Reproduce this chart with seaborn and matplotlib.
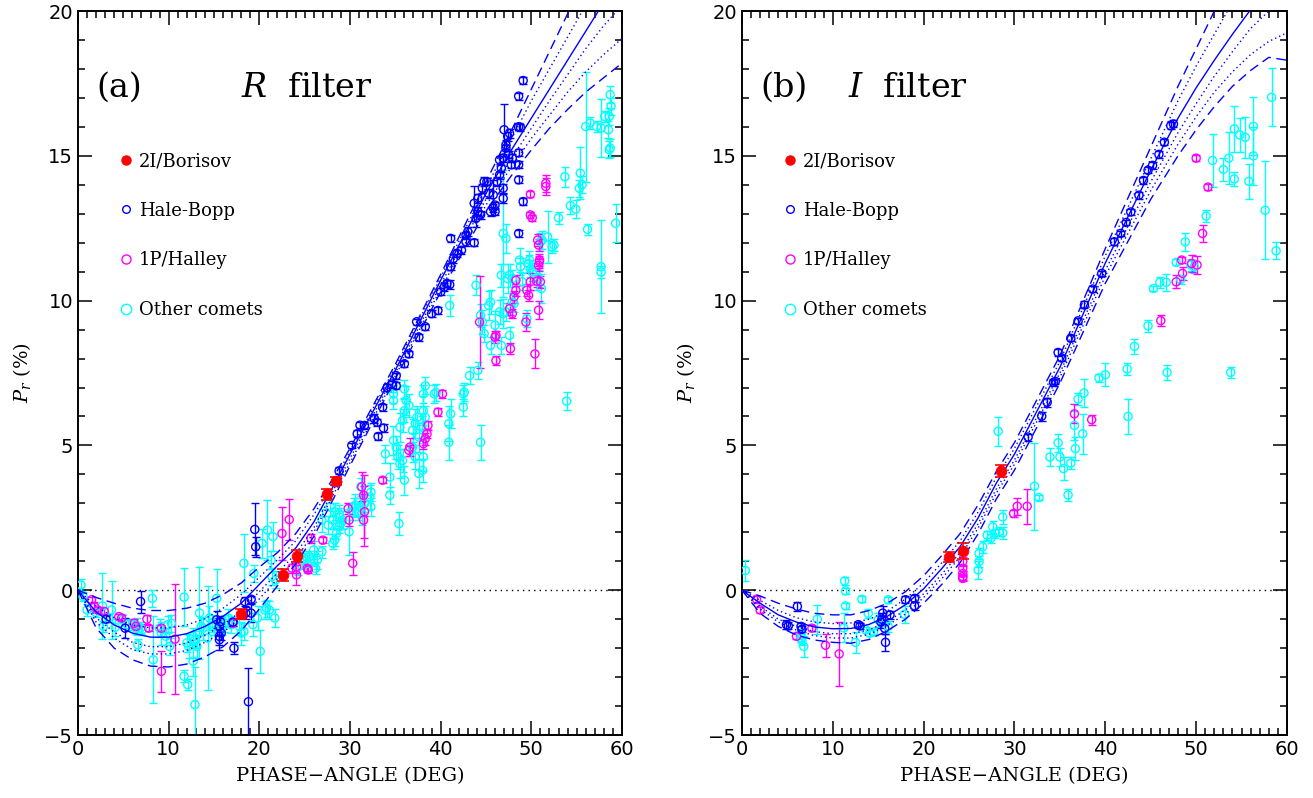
import numpy as np
import pandas as pd
import matplotlib
matplotlib.use("Agg")
import matplotlib.pyplot as plt
import seaborn as sns
from matplotlib.lines import Line2D
from matplotlib.ticker import MultipleLocator

sns.set_theme(style="ticks")
plt.rcParams["font.family"] = ["DejaVu Serif"]
plt.rcParams["mathtext.fontset"] = "dejavuserif"
plt.rcParams["text.color"] = "black"
plt.rcParams["axes.labelcolor"] = "black"
plt.rcParams["xtick.color"] = "black"
plt.rcParams["ytick.color"] = "black"

BLUE, MAGENTA, CYAN, RED = "#0000ff", "#ff00ff", "#00ffff", "#ff0000"

# ---------------- model curves ----------------
CURVE_X = [0, 2, 4, 6, 8, 10, 12, 14, 16, 18, 20, 22, 24, 26, 28, 30, 35, 40, 45, 48, 50, 52, 54, 56, 58, 60]

R_solid = [0, -0.75, -1.2, -1.48, -1.62, -1.62, -1.5, -1.25, -0.9, -0.45, 0.2, 0.85, 1.45, 2.35, 3.5, 4.7, 7.6, 10.7, 13.7, 15.3, 16.3, 17.3, 18.3, 19.3, 20.3, 21.3]
R_dash_hi = [0, -0.25, -0.45, -0.62, -0.7, -0.7, -0.62, -0.45, -0.15, 0.25, 0.8, 1.3, 1.95, 2.8, 3.8, 4.9, 7.8, 10.9, 14.1, 16.0, 17.3, 18.6, 19.9, 21.2, 22.5, 23.8]
R_dot_hi = [0, -0.55, -0.95, -1.2, -1.3, -1.3, -1.2, -0.98, -0.62, -0.15, 0.45, 1.05, 1.7, 2.6, 3.65, 4.8, 7.7, 10.8, 13.9, 15.7, 16.9, 18.0, 19.1, 20.2, 21.3, 22.4]
R_dot_lo1 = [0, -0.95, -1.45, -1.8, -1.95, -1.95, -1.82, -1.55, -1.2, -0.72, -0.05, 0.6, 1.25, 2.15, 3.35, 4.55, 7.5, 10.55, 13.5, 15.0, 15.95, 16.9, 17.8, 18.7, 19.5, 20.2]
R_dot_lo2 = [0, -1.1, -1.65, -2.05, -2.2, -2.2, -2.08, -1.8, -1.45, -0.95, -0.3, 0.4, 1.05, 2.0, 3.2, 4.4, 7.4, 10.4, 13.3, 14.7, 15.6, 16.4, 17.2, 17.9, 18.5, 19.05]
R_dash_lo = [0, -1.3, -2.0, -2.4, -2.62, -2.65, -2.55, -2.3, -1.95, -1.4, -0.65, 0.15, 0.9, 1.85, 3.05, 4.3, 7.3, 10.3, 13.1, 14.4, 15.2, 15.95, 16.6, 17.2, 17.7, 18.2]

I_solid = [0, -0.45, -0.85, -1.1, -1.27, -1.33, -1.32, -1.18, -0.9, -0.5, 0.05, 0.75, 1.5, 2.5, 3.7, 4.7, 7.7, 11.3, 14.5, 16.3, 17.35, 18.3, 19.2, 20.05, 20.9, 21.7]
I_dash_hi = [0, -0.2, -0.45, -0.65, -0.8, -0.85, -0.85, -0.7, -0.45, -0.05, 0.5, 1.2, 1.95, 2.95, 4.1, 5.1, 8.1, 11.8, 15.3, 17.4, 18.7, 20.0, 21.3, 22.6, 23.9, 25.2]
I_dot_hi = [0, -0.35, -0.7, -0.95, -1.1, -1.15, -1.13, -1.0, -0.72, -0.3, 0.25, 0.95, 1.7, 2.7, 3.9, 4.9, 7.9, 11.55, 14.9, 16.9, 18.1, 19.2, 20.3, 21.4, 22.5, 23.6]
I_dot_lo1 = [0, -0.55, -1.0, -1.25, -1.43, -1.5, -1.5, -1.37, -1.08, -0.68, -0.12, 0.55, 1.3, 2.3, 3.5, 4.5, 7.5, 11.05, 14.1, 15.8, 16.8, 17.75, 18.6, 19.4, 20.0, 20.5]
I_dot_lo2 = [0, -0.65, -1.1, -1.38, -1.57, -1.65, -1.65, -1.52, -1.22, -0.82, -0.25, 0.4, 1.15, 2.15, 3.35, 4.35, 7.35, 10.85, 13.8, 15.4, 16.35, 17.2, 17.9, 18.5, 18.95, 19.25]
I_dash_lo = [0, -0.8, -1.25, -1.55, -1.72, -1.8, -1.83, -1.7, -1.4, -1.0, -0.45, 0.2, 0.95, 1.95, 3.15, 4.15, 7.15, 10.6, 13.5, 15.0, 15.9, 16.7, 17.4, 17.95, 18.4, 18.3]

# ---------------- observations: (phase, polarization, error) ----------------
R_borisov = [(18.0, -0.83, 0.18), (22.6, 0.53, 0.2), (24.2, 1.19, 0.2), (27.5, 3.31, 0.2), (28.5, 3.77, 0.15)]

R_halebopp = [
    (3.1, -1.0, 0.1), (5.2, -1.31, 0.35), (6.9, -0.39, 0.38), (15.3, -1.02, 0.3), (15.6, -1.25, 0.3),
    (15.7, -1.08, 0.2), (15.6, -1.59, 0.3), (15.8, -1.48, 0.25), (15.6, -1.71, 0.35), (17.1, -1.1, 0.15),
    (17.2, -2.0, 0.2), (18.4, -0.39, 0.15), (18.5, -0.79, 0.2), (19.1, -0.31, 0.12), (19.1, -0.79, 0.3),
    (18.8, -3.85, 1.15), (19.5, 2.1, 0.9), (19.6, 1.5, 0.35),
    (28.8, 4.12, 0.12), (30.2, 5.0, 0.1), (30.8, 5.4, 0.12), (31.1, 5.7, 0.1), (31.6, 5.69, 0.12),
    (32.7, 5.92, 0.15), (33.0, 5.8, 0.12), (33.1, 5.31, 0.12), (33.7, 5.6, 0.15), (33.6, 6.32, 0.12),
    (34.1, 7.0, 0.12), (34.6, 7.12, 0.12), (35.1, 7.06, 0.12), (35.1, 7.41, 0.1), (36.0, 7.82, 0.1),
    (36.5, 8.16, 0.1), (37.35, 9.27, 0.1), (37.6, 8.74, 0.12), (38.3, 9.1, 0.1), (39.0, 9.55, 0.12),
    (39.7, 9.66, 0.12), (40.0, 10.3, 0.12), (40.4, 10.47, 0.15), (40.7, 10.59, 0.12), (41.0, 10.55, 0.15),
    (41.1, 11.17, 0.12), (41.4, 11.45, 0.15), (41.8, 11.63, 0.12), (42.3, 11.74, 0.12), (41.1, 12.15, 0.12),
    (42.8, 12.03, 0.15), (43.0, 12.38, 0.15), (42.8, 12.26, 0.12), (43.7, 12.0, 0.12), (43.9, 12.84, 0.3),
    (44.1, 13.07, 0.15), (44.4, 12.96, 0.15), (43.7, 13.36, 0.6), (44.1, 13.53, 0.15), (44.6, 13.88, 0.15),
    (44.8, 14.11, 0.15), (45.1, 14.11, 0.12), (45.3, 13.7, 0.15), (45.5, 13.07, 0.15), (45.8, 13.2, 0.15),
    (46.0, 13.3, 0.12), (45.8, 13.65, 0.5), (46.2, 14.11, 0.15), (46.5, 14.34, 0.15), (46.7, 14.57, 0.12),
    (46.0, 13.07, 0.12), (46.9, 13.88, 0.15), (46.9, 13.53, 0.15), (46.5, 14.86, 0.15), (46.9, 14.92, 0.15),
    (47.2, 15.38, 0.15), (47.4, 15.67, 0.15), (47.6, 15.78, 0.15), (47.2, 15.27, 0.12), (47.5, 15.03, 0.12),
    (47.9, 14.92, 0.15), (47.8, 14.69, 0.12), (47.0, 15.9, 0.9), (48.6, 16.0, 0.12), (48.8, 15.98, 0.12),
    (48.6, 15.1, 0.12), (48.6, 14.69, 0.12), (48.6, 14.17, 0.12), (49.1, 13.42, 0.12), (48.6, 12.32, 0.12),
    (48.6, 17.06, 0.12), (49.1, 17.6, 0.12),
]

R_halley = [
    (1.5, -0.33, 0.1), (1.8, -0.56, 0.15), (2.2, -0.68, 0.1), (2.9, -0.73, 0.1), (4.5, -0.91, 0.1),
    (4.8, -0.96, 0.1), (6.2, -1.14, 0.15), (6.4, -1.25, 0.1), (7.6, -1.0, 0.15), (7.8, -1.31, 0.1),
    (9.2, -1.31, 0.1), (9.2, -2.8, 0.7), (10.7, -1.69, 1.9), (17.1, -1.14, 0.1), (22.5, 1.96, 0.9),
    (23.3, 2.44, 0.7), (23.6, 0.76, 0.15), (24.1, 0.81, 0.2), (24.1, 0.53, 0.35), (25.3, 0.76, 0.1),
    (25.4, 0.7, 0.1), (25.7, 1.79, 0.15), (27.0, 1.73, 0.1), (29.8, 2.82, 0.2), (29.9, 2.42, 0.2),
    (30.3, 0.93, 0.4), (31.3, 3.57, 0.5), (31.5, 3.28, 0.7), (31.6, 2.71, 0.9), (31.5, 2.42, 0.9),
    (33.6, 3.8, 0.1), (36.6, 4.94, 0.3), (36.5, 4.83, 0.2), (38.1, 5.06, 0.2), (38.3, 5.23, 0.2),
    (38.5, 5.4, 0.15), (38.6, 5.69, 0.15), (39.7, 6.15, 0.15), (40.2, 6.78, 0.15), (44.3, 9.26, 1.6),
    (46.0, 8.74, 0.2), (46.1, 8.8, 0.15), (46.1, 7.93, 0.15), (47.6, 9.72, 0.2), (47.9, 9.55, 0.15),
    (47.7, 8.34, 0.2), (48.1, 10.13, 0.2), (48.3, 10.7, 0.2), (48.3, 10.36, 0.2), (49.5, 10.36, 0.2),
    (49.7, 10.18, 0.2), (49.9, 10.65, 0.3), (50.6, 10.67, 0.2), (51.0, 10.65, 0.2), (50.4, 8.16, 0.5),
    (50.8, 9.67, 0.3), (49.4, 9.26, 0.3), (49.9, 12.96, 0.1), (50.1, 12.86, 0.1), (49.9, 13.67, 0.1),
    (50.7, 12.09, 0.2), (50.8, 11.92, 0.2), (50.9, 11.4, 0.2), (50.8, 11.22, 0.2), (50.9, 11.34, 0.2),
    (51.6, 14.05, 0.3), (51.6, 13.94, 0.3),
]

R_other = [
    (0.33, 0.18, 0.2), (0.56, -0.22, 0.15), (1.0, -0.68, 0.2), (2.0, -0.77, 0.15), (2.7, -0.54, 1.15),
    (2.8, -1.25, 0.2), (3.4, -0.96, 0.15), (3.7, -0.68, 1.0), (4.1, -1.28, 0.3), (4.8, -1.02, 0.2),
    (5.5, -1.19, 0.2), (6.2, -1.19, 0.2), (6.4, -1.31, 0.2), (6.5, -1.25, 0.3), (6.6, -1.88, 0.2),
    (6.9, -1.31, 0.2), (7.1, -1.36, 0.2), (8.2, -0.28, 0.3), (8.3, -2.4, 1.5), (9.0, -1.31, 0.3),
    (9.2, -1.48, 0.4), (9.7, -1.59, 0.3), (9.9, -1.19, 0.3), (10.1, -1.94, 0.3), (10.3, -1.14, 0.3),
    (11.7, -0.24, 1.0), (11.7, -2.97, 0.2), (12.1, -3.26, 0.2), (12.0, -1.82, 0.3), (12.2, -1.94, 0.4),
    (12.7, -1.59, 0.3), (12.9, -1.71, 0.3), (13.1, -1.94, 0.4), (12.9, -3.95, 1.3), (12.7, -2.45, 0.5),
    (13.4, -0.79, 1.6), (13.6, -1.25, 0.3), (13.8, -1.31, 0.4), (14.3, -1.65, 1.8), (14.5, -0.96, 0.4),
    (14.8, -1.14, 0.3), (15.0, -1.25, 0.3), (15.3, -0.28, 1.0), (15.9, -1.25, 0.3), (16.2, -1.14, 0.3),
    (16.6, -0.96, 0.3), (16.9, -1.19, 0.3), (17.8, -1.25, 0.3), (18.0, -1.48, 0.4), (18.3, -1.42, 0.3),
    (18.3, 0.93, 1.0), (19.3, -1.19, 0.4), (19.4, 0.58, 0.3), (19.8, -0.96, 0.4), (20.1, -2.11, 0.75),
    (20.3, 1.62, 0.5), (20.6, -0.68, 0.3), (20.8, -0.62, 0.3), (21.1, -0.68, 0.3), (20.9, 2.08, 1.05),
    (21.3, 1.04, 0.3), (21.5, 1.85, 0.5), (21.7, -0.96, 0.3), (21.4, 0.47, 0.3), (21.8, 0.36, 0.3),
    (24.3, 0.81, 0.3), (24.8, 1.04, 0.3), (25.0, 1.1, 0.2), (25.3, 0.93, 0.3), (25.5, 1.16, 0.2),
    (26.0, 1.39, 0.3), (26.2, 0.76, 0.2), (26.0, 1.04, 0.2), (26.4, 1.04, 0.3), (26.9, 1.33, 0.2),
    (26.9, 2.42, 0.4), (27.6, 2.25, 0.3), (28.1, 2.42, 0.3), (28.1, 1.62, 0.2), (28.3, 1.73, 0.2),
    (28.5, 1.96, 0.2), (28.8, 2.19, 0.2), (29.0, 2.3, 0.2), (29.2, 2.42, 0.3), (28.8, 2.53, 0.3),
    (27.8, 2.88, 0.3), (28.3, 2.71, 0.3), (28.8, 2.65, 0.3), (29.9, 2.02, 0.8), (30.2, 2.71, 0.3),
    (30.4, 2.88, 0.3), (30.6, 2.94, 0.4), (30.9, 2.71, 0.3), (31.1, 2.88, 0.3), (31.3, 2.65, 0.4),
    (31.6, 2.99, 0.3), (31.2, 3.57, 0.3), (32.2, 3.22, 0.4), (32.3, 2.88, 0.3), (32.3, 3.39, 0.3),
    (33.9, 4.71, 0.3), (34.4, 3.91, 0.5), (34.4, 3.28, 0.3), (34.8, 5.17, 0.5), (35.1, 4.94, 0.4),
    (35.3, 4.6, 0.4), (35.5, 4.37, 0.5), (35.8, 4.48, 0.4), (36.0, 3.8, 0.5), (35.4, 2.3, 0.4),
    (35.5, 5.63, 0.5), (35.8, 5.86, 0.4), (36.0, 6.2, 0.4), (36.2, 6.55, 0.5), (36.5, 6.38, 0.4),
    (34.8, 6.55, 0.3), (34.8, 6.78, 0.3), (36.9, 5.52, 0.4), (37.2, 5.75, 0.5), (37.4, 5.97, 0.4),
    (37.6, 5.29, 0.5), (37.9, 5.63, 0.4), (38.1, 6.2, 0.5), (38.3, 5.97, 0.4), (36.9, 4.94, 0.5),
    (37.2, 4.6, 0.4), (37.6, 4.03, 0.5), (38.0, 4.14, 0.4), (38.1, 4.6, 0.5), (38.1, 6.78, 0.3),
    (38.3, 7.06, 0.3), (39.3, 6.78, 0.3), (39.5, 6.83, 0.3), (40.9, 5.75, 0.6), (40.9, 5.11, 0.6),
    (41.1, 6.09, 0.5), (42.5, 6.78, 0.3), (42.5, 6.32, 0.3), (44.4, 5.11, 0.6), (53.9, 6.53, 0.3),
    (36.0, 6.95, 0.3), (42.6, 6.84, 0.3), (41.0, 9.83, 0.35), (43.9, 10.53, 0.35), (43.2, 7.41, 0.3),
    (44.1, 7.59, 0.3), (44.4, 9.49, 0.4), (44.6, 9.26, 0.4), (44.8, 8.86, 0.3), (45.5, 8.45, 0.3),
    (45.3, 9.83, 0.5), (45.5, 9.95, 0.4), (46.0, 9.15, 0.5), (46.7, 8.45, 0.3), (46.5, 9.61, 0.4),
    (46.9, 9.55, 0.5), (47.2, 9.61, 0.3), (46.7, 10.88, 0.4), (46.9, 12.32, 2.2), (47.2, 12.15, 0.5),
    (47.4, 10.76, 0.5), (47.6, 10.88, 0.4), (47.9, 10.76, 0.3), (47.6, 8.8, 0.3), (47.9, 9.95, 0.3),
    (48.1, 9.9, 0.3), (48.7, 11.4, 0.4), (48.8, 11.17, 0.3), (49.0, 10.65, 0.3), (49.7, 11.28, 0.3),
    (49.8, 11.4, 0.3), (49.9, 11.1, 0.3), (50.1, 10.99, 0.3), (49.5, 9.38, 0.3), (50.6, 10.65, 0.3),
    (50.8, 10.76, 0.3), (51.0, 12.03, 0.3), (51.2, 12.09, 0.3), (51.1, 10.42, 0.5), (51.8, 12.2, 0.9),
    (52.3, 11.86, 0.2), (52.5, 11.92, 0.2), (53.0, 12.86, 0.2), (53.7, 14.28, 0.35), (54.3, 13.28, 0.3),
    (54.9, 13.16, 0.3), (55.3, 13.88, 0.3), (55.6, 14.0, 0.3), (55.4, 14.4, 0.9), (56.0, 16.01, 1.9),
    (56.2, 12.46, 0.2), (56.5, 16.13, 0.2), (57.2, 16.01, 0.2), (57.7, 15.96, 1.0), (58.1, 16.36, 0.2),
    (58.6, 16.36, 0.3), (58.5, 15.9, 0.3), (58.7, 15.27, 0.3), (58.6, 15.21, 0.3), (58.7, 17.11, 0.3),
    (58.8, 16.71, 0.3), (57.7, 11.17, 1.6), (57.7, 10.99, 0.2), (59.3, 12.67, 0.65),
]

I_borisov = [(22.8, 1.15, 0.18), (24.3, 1.35, 0.28), (28.5, 4.12, 0.2)]

I_halebopp = [
    (4.9, -1.19, 0.15), (5.1, -1.23, 0.12), (6.1, -0.56, 0.15), (6.5, -1.25, 0.12), (6.6, -1.35, 0.1),
    (12.8, -1.19, 0.1), (13.0, -1.23, 0.1), (15.3, -1.1, 0.2), (15.4, -1.0, 0.2), (15.5, -0.79, 0.25),
    (15.7, -1.31, 0.2), (15.8, -1.8, 0.3), (16.3, -0.85, 0.15), (18.0, -0.33, 0.12), (19.0, -0.54, 0.15),
    (19.0, -0.28, 0.12), (31.5, 5.29, 0.12), (33.0, 6.01, 0.15), (33.6, 6.49, 0.15), (34.3, 7.18, 0.12),
    (34.5, 7.21, 0.1), (34.8, 8.21, 0.12), (35.2, 8.02, 0.1), (36.2, 8.7, 0.1), (37.0, 9.3, 0.1),
    (37.7, 9.85, 0.12), (38.6, 10.4, 0.1), (39.6, 10.94, 0.1), (41.0, 12.03, 0.12), (41.7, 12.32, 0.1),
    (42.3, 12.7, 0.1), (42.8, 13.06, 0.12), (43.7, 13.64, 0.12), (44.2, 14.15, 0.12), (44.7, 14.5, 0.1),
    (45.2, 14.67, 0.12), (45.9, 15.05, 0.12), (46.5, 15.47, 0.1), (47.2, 16.04, 0.12), (47.5, 16.1, 0.12),
]

I_halley = [
    (1.6, -0.31, 0.12), (2.0, -0.68, 0.1), (6.0, -1.59, 0.1), (7.7, -1.31, 0.1), (9.2, -1.9, 0.4),
    (10.7, -2.2, 1.1), (24.3, 0.99, 0.15), (24.3, 0.76, 0.1), (24.3, 0.58, 0.1), (24.3, 0.47, 0.1),
    (24.3, 0.41, 0.1), (29.9, 2.65, 0.12), (30.3, 2.9, 0.3), (31.4, 2.9, 0.6), (36.6, 6.09, 0.33),
    (38.5, 5.89, 0.17), (46.1, 9.31, 0.2), (47.8, 10.65, 0.23), (48.4, 11.4, 0.1), (48.5, 10.94, 0.23),
    (49.5, 11.28, 0.3), (50.1, 11.23, 0.3), (50.7, 12.32, 0.3), (50.0, 14.92, 0.1), (51.3, 13.92, 0.1),
]

I_other = [
    (0.37, 0.68, 0.37), (11.3, 0.32, 0.15), (11.4, -0.02, 0.1), (11.4, -0.54, 0.1), (13.2, -0.31, 0.1),
    (11.2, -1.3, 0.5), (8.3, -1.0, 0.5), (6.5, -1.5, 0.15), (6.5, -1.65, 0.15), (6.6, -1.75, 0.15),
    (6.8, -1.94, 0.35), (12.5, -1.8, 0.37), (13.9, -0.8, 0.15), (13.6, -1.36, 0.1), (14.05, -1.48, 0.1),
    (14.5, -1.44, 0.1), (15.0, -1.02, 0.25), (16.1, -0.33, 0.1), (16.1, -1.25, 0.2), (17.9, -0.83, 0.3),
    (26.0, 0.70, 0.3), (26.1, 0.99, 0.2), (26.1, 1.27, 0.2), (26.5, 1.5, 0.2), (27.0, 1.9, 0.15),
    (27.4, 1.79, 0.15), (27.6, 2.19, 0.2), (27.9, 1.96, 0.15), (28.3, 2.02, 0.15), (28.7, 2.53, 0.25),
    (28.7, 1.98, 0.2), (28.2, 5.49, 0.5), (32.2, 3.59, 1.5), (32.7, 3.2, 0.1), (33.9, 4.6, 0.3),
    (34.8, 5.09, 0.3), (35.0, 4.6, 0.3), (35.4, 4.2, 0.4), (36.2, 4.39, 0.2), (36.7, 4.89, 0.4),
    (36.6, 5.69, 0.5), (37.5, 5.4, 0.7), (37.0, 6.6, 0.2), (37.65, 6.81, 0.5), (35.9, 3.29, 0.2),
    (42.5, 6.0, 0.6), (39.3, 7.33, 0.15), (40.0, 7.44, 0.4), (42.4, 7.64, 0.2), (43.2, 8.42, 0.25),
    (44.7, 9.13, 0.2), (45.3, 10.42, 0.1), (46.0, 10.63, 0.2), (46.7, 10.63, 0.3), (47.8, 11.32, 0.1),
    (48.3, 10.73, 0.15), (48.8, 12.03, 0.3), (49.4, 11.23, 0.2), (49.8, 11.17, 0.2), (51.1, 12.92, 0.2),
    (51.8, 14.84, 0.9), (53.0, 14.53, 0.4), (53.6, 14.92, 0.9), (54.2, 15.93, 0.8), (54.2, 14.2, 0.25),
    (54.8, 15.72, 0.6), (55.4, 15.64, 0.7), (55.8, 14.12, 0.6), (56.3, 16.02, 1.0), (56.3, 15.0, 1.0),
    (57.6, 13.12, 1.7), (58.3, 17.02, 1.0), (58.8, 11.72, 0.3), (53.8, 7.52, 0.2), (46.8, 7.52, 0.25),
]

SERIES_LABELS = ["2I/Borisov", "Hale-Bopp", "1P/Halley", "Other comets"]
X_TICKS = [0, 10, 20, 30, 40, 50, 60]
Y_TICKS = [-5, 0, 5, 10, 15, 20]

# ---------------- figure ----------------
fig = plt.figure(figsize=(13.13, 7.98), dpi=100)
axL = fig.add_axes([0.0594, 0.0789, 0.4143, 0.9073])
axR = fig.add_axes([0.5651, 0.0789, 0.4151, 0.9073])

DASH = (0, (7, 4))
DOT = (0, (1, 2.2))


def draw_panel(ax, curves, other, halley, halebopp, borisov, tag, filt):
    ax.axhline(0, color="black", lw=1.0, ls=(0, (1, 3)), zorder=1)
    for pts, col in [(other, CYAN), (halley, MAGENTA), (halebopp, BLUE)]:
        df = pd.DataFrame(pts, columns=["phase", "pol", "err"])
        ax.errorbar(df["phase"], df["pol"], yerr=df["err"], fmt="none", ecolor=col,
                    elinewidth=1.0, capsize=3, capthick=1.0, zorder=2)
        sns.scatterplot(data=df, x="phase", y="pol", ax=ax, s=34, marker="o",
                        facecolor="none", edgecolor=col, linewidth=1.0, zorder=3, legend=False)
    for ys, ls in curves:
        sns.lineplot(x=CURVE_X, y=ys, ax=ax, color=BLUE, lw=1.0, linestyle=ls,
                     estimator=None, sort=False, legend=False, zorder=4)
    dfb = pd.DataFrame(borisov, columns=["phase", "pol", "err"])
    ax.errorbar(dfb["phase"], dfb["pol"], yerr=dfb["err"], fmt="none", ecolor=RED,
                elinewidth=1.2, capsize=4, capthick=1.2, zorder=5)
    sns.scatterplot(data=dfb, x="phase", y="pol", ax=ax, s=60, marker="o",
                    color=RED, edgecolor=RED, linewidth=0.5, zorder=6, legend=False)

    ax.set_xlim(0, 60)
    ax.set_ylim(-5, 20)
    ax.set_xticks(X_TICKS)
    ax.set_yticks(Y_TICKS)
    ax.set_yticklabels([("\u2212%d" % abs(v)) if v < 0 else str(v) for v in Y_TICKS])
    ax.xaxis.set_minor_locator(MultipleLocator(1))
    ax.yaxis.set_minor_locator(MultipleLocator(1))
    ax.tick_params(which="both", direction="in", top=True, right=True, colors="black",
                   labelcolor="black", labelsize=14, width=1.1)
    ax.tick_params(which="major", length=10)
    ax.tick_params(which="minor", length=5)
    for lab in ax.get_xticklabels() + ax.get_yticklabels():
        lab.set_family("DejaVu Sans")
        lab.set_color("black")
    for sp in ax.spines.values():
        sp.set_visible(True)
        sp.set_color("black")
        sp.set_linewidth(1.4)
    ax.set_xlabel("PHASE\u2212ANGLE (DEG)", fontsize=14, labelpad=6, color="black")
    ax.set_ylabel(r"$P_r$ (%)", fontsize=14, labelpad=8, color="black")

    ax.text(0.033, 0.894, tag, transform=ax.transAxes, fontsize=24, va="center", ha="left",
            color="black")
    ax.text(filt[0], 0.894, filt[1], transform=ax.transAxes, fontsize=24, va="center", ha="left",
            color="black")

    handles = [
        Line2D([], [], ls="none", marker="o", ms=6.5, mfc=RED, mec=RED),
        Line2D([], [], ls="none", marker="o", ms=5.5, mfc="none", mec=BLUE, mew=1.0),
        Line2D([], [], ls="none", marker="o", ms=6.5, mfc="none", mec=MAGENTA, mew=1.0),
        Line2D([], [], ls="none", marker="o", ms=7.5, mfc="none", mec=CYAN, mew=1.0),
    ]
    leg = ax.legend(handles, SERIES_LABELS, loc="upper left", bbox_to_anchor=(0.055, 0.815),
                    frameon=False, fontsize=13, labelspacing=1.75, handletextpad=0.1,
                    handlelength=1.2, borderaxespad=0)
    for t in leg.get_texts():
        t.set_color("black")


R_curves = [(R_dash_hi, DASH), (R_dot_hi, DOT), (R_solid, "-"), (R_dot_lo1, DOT),
            (R_dot_lo2, DOT), (R_dash_lo, DASH)]
I_curves = [(I_dash_hi, DASH), (I_dot_hi, DOT), (I_solid, "-"), (I_dot_lo1, DOT),
            (I_dot_lo2, DOT), (I_dash_lo, DASH)]

draw_panel(axL, R_curves, R_other, R_halley, R_halebopp, R_borisov, "(a)", (0.30, r"$R$  filter"))
draw_panel(axR, I_curves, I_other, I_halley, I_halebopp, I_borisov, "(b)", (0.195, r"$I$  filter"))

fig.savefig("out.png", dpi=100)
